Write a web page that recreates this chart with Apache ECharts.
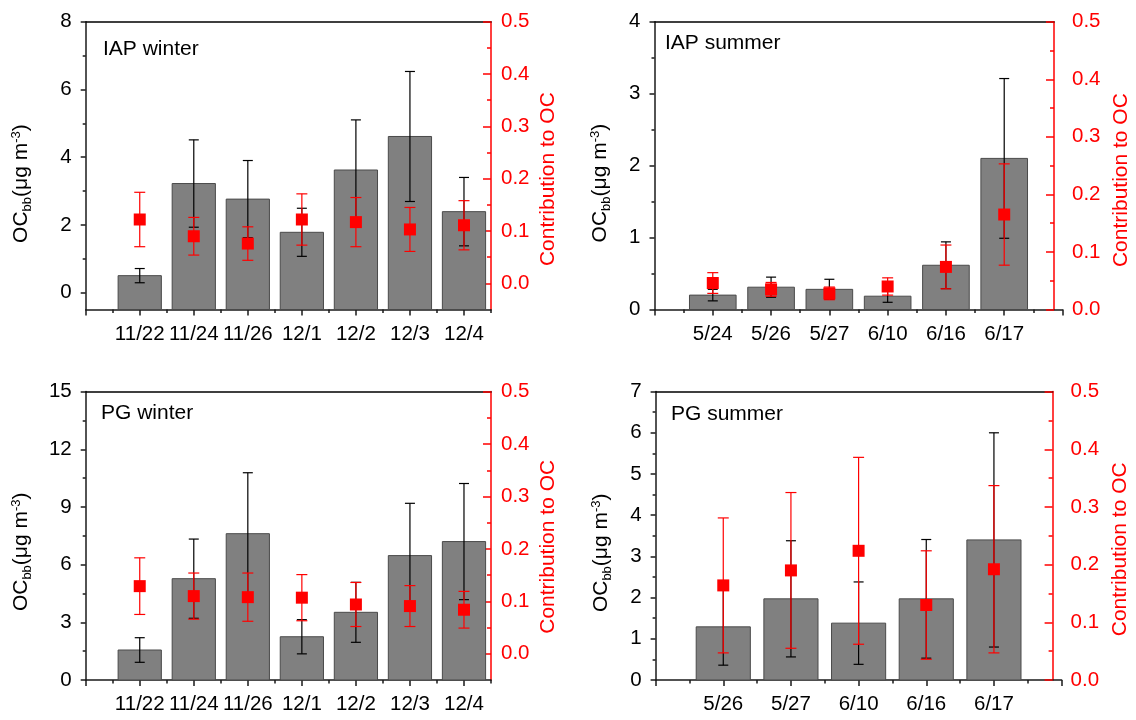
<!DOCTYPE html>
<html><head><meta charset="utf-8">
<script src="https://cdn.jsdelivr.net/npm/echarts@6/dist/echarts.min.js"></script>
<style>html,body{margin:0;padding:0;background:#fff}#c{width:1136px;height:720px}</style>
</head><body><div id="c"></div>
<script>
// ---------- data ----------
const iapWinterDates = ['11/22','11/24','11/26','12/1','12/2','12/3','12/4'];
const iapWinterOC    = [0.50, 3.22, 2.76, 1.78, 3.62, 4.61, 2.39];
const iapWinterOCErr = [0.21, 1.29, 1.14, 0.71, 1.48, 1.92, 1.01];
const iapWinterFrac    = [0.122, 0.090, 0.076, 0.122, 0.117, 0.103, 0.111];
const iapWinterFracErr = [0.052, 0.036, 0.032, 0.049, 0.047, 0.042, 0.047];

const iapSummerDates = ['5/24','5/26','5/27','6/10','6/16','6/17'];
const iapSummerOC    = [0.20, 0.31, 0.28, 0.185, 0.615, 2.10];
const iapSummerOCErr = [0.08, 0.14, 0.14, 0.085, 0.325, 1.11];
const iapSummerFrac    = [0.046, 0.035, 0.028, 0.040, 0.074, 0.165];
const iapSummerFracErr = [0.018, 0.012, 0.011, 0.015, 0.038, 0.088];

const pgWinterDates = ['11/22','11/24','11/26','12/1','12/2','12/3','12/4'];
const pgWinterOC    = [1.56, 5.27, 7.61, 2.25, 3.52, 6.47, 7.20];
const pgWinterOCErr = [0.64, 2.06, 3.17, 0.89, 1.56, 2.72, 3.02];
const pgWinterFrac    = [0.129, 0.110, 0.108, 0.107, 0.094, 0.091, 0.084];
const pgWinterFracErr = [0.054, 0.044, 0.046, 0.044, 0.042, 0.039, 0.035];

const pgSummerDates = ['5/26','5/27','6/10','6/16','6/17'];
const pgSummerOC    = [1.29, 1.97, 1.38, 1.97, 3.40];
const pgSummerOCErr = [0.93, 1.41, 1.00, 1.44, 2.60];
const pgSummerFrac    = [0.164, 0.190, 0.224, 0.130, 0.192];
const pgSummerFracErr = [0.117, 0.135, 0.162, 0.094, 0.145];

// tick values
const iapWinterLeftTicks = [0, 2, 4, 6, 8];
const iapWinterLeftMinor = [1, 3, 5, 7];
const iapSummerLeftTicks = [0, 1, 2, 3, 4];
const iapSummerLeftMinor = [0.5, 1.5, 2.5, 3.5];
const pgWinterLeftTicks = [0, 3, 6, 9, 12, 15];
const pgWinterLeftMinor = [1.5, 4.5, 7.5, 10.5, 13.5];
const pgSummerLeftTicks = [0, 1, 2, 3, 4, 5, 6, 7];
const pgSummerLeftMinor = [0.5, 1.5, 2.5, 3.5, 4.5, 5.5, 6.5];
const rightTicks = [0, 0.1, 0.2, 0.3, 0.4, 0.5];
const rightMinor = [0.05, 0.15, 0.25, 0.35, 0.45];

// ---------- layout ----------
const FONT = '"Liberation Sans", Arial, Helvetica, sans-serif';
const AXIS_BLACK = '#1a1a1a';
const RED = '#ff0000';

const panels = [
  { title: 'IAP winter', dates: iapWinterDates, oc: iapWinterOC, ocErr: iapWinterOCErr, frac: iapWinterFrac, fracErr: iapWinterFracErr,
    ocMin: -0.5, ocMax: 8, leftTicks: iapWinterLeftTicks, leftMinor: iapWinterLeftMinor, fracMin: -0.05, xMax: 7.5,
    left: 85.7, top: 21.7, width: 405.3, height: 287.8, redX: 491, titleX: 103, titleY: 39,
    leftGap: 50, rightGap: 47, leftShift: 36, rightShift: 27, rightMargin: 10 },
  { title: 'IAP summer', dates: iapSummerDates, oc: iapSummerOC, ocErr: iapSummerOCErr, frac: iapSummerFrac, fracErr: iapSummerFracErr,
    ocMin: 0, ocMax: 4, leftTicks: iapSummerLeftTicks, leftMinor: iapSummerLeftMinor, fracMin: 0, xMax: 7,
    left: 654.5, top: 21.7, width: 408, height: 287.8, redX: 1054, titleX: 665, titleY: 33,
    leftGap: 40, rightGap: 57, leftShift: 35, rightShift: 29, rightMargin: 18 },
  { title: 'PG winter', dates: pgWinterDates, oc: pgWinterOC, ocErr: pgWinterOCErr, frac: pgWinterFrac, fracErr: pgWinterFracErr,
    ocMin: 0, ocMax: 15, leftTicks: pgWinterLeftTicks, leftMinor: pgWinterLeftMinor, fracMin: -0.05, xMax: 7.5,
    left: 85.7, top: 391.6, width: 405.3, height: 288.4, redX: 491, titleX: 101, titleY: 403,
    leftGap: 50, rightGap: 47, leftShift: 32, rightShift: 22, rightMargin: 10 },
  { title: 'PG summer', dates: pgSummerDates, oc: pgSummerOC, ocErr: pgSummerOCErr, frac: pgSummerFrac, fracErr: pgSummerFracErr,
    ocMin: 0, ocMax: 7, leftTicks: pgSummerLeftTicks, leftMinor: pgSummerLeftMinor, fracMin: 0, xMax: 6,
    left: 655.6, top: 391.6, width: 406, height: 288.4, redX: 1052.6, titleX: 671, titleY: 404,
    leftGap: 40, rightGap: 57, leftShift: 34, rightShift: 27, rightMargin: 18 }
];

const option = { animation: false, backgroundColor: '#fff', title: [], grid: [], xAxis: [], yAxis: [], series: [] };

const noSplit = { show: false };

panels.forEach(p => {
  const gA = option.grid.length;
  option.grid.push({ left: p.left, top: p.top, width: p.width, height: p.height });
  const gB = option.grid.length;
  option.grid.push({ left: p.left, top: p.top, width: p.redX - p.left, height: p.height });

  option.title.push({ text: p.title, left: p.titleX, top: p.titleY, padding: 0,
    textStyle: { fontFamily: FONT, fontSize: 21, fontWeight: 'normal', color: '#000' } });

  const majorX = [], minorX = [];
  for (let v = 0; v <= p.xMax + 1e-9; v += 0.5) {
    if (Math.abs(v - Math.round(v)) < 1e-9) majorX.push(v); else minorX.push(v);
  }
  const catPos = p.dates.map((d, i) => i + 1);

  // x axes
  const xMain = option.xAxis.length;
  option.xAxis.push({ gridIndex: gA, type: 'value', min: 0, max: p.xMax, position: 'bottom',
    axisLine: { show: true, onZero: false, lineStyle: { color: AXIS_BLACK, width: 1.5 } },
    axisTick: { show: true, customValues: majorX, length: 6, lineStyle: { color: AXIS_BLACK, width: 1.5 } },
    axisLabel: { customValues: catPos, formatter: v => p.dates[Math.round(v) - 1] || '',
      fontFamily: FONT, fontSize: 20.5, color: '#000', margin: 14 },
    splitLine: noSplit });
  option.xAxis.push({ gridIndex: gA, type: 'value', min: 0, max: p.xMax, position: 'bottom',
    axisLine: { show: false, onZero: false },
    axisTick: { show: true, customValues: minorX, length: 3.5, lineStyle: { color: AXIS_BLACK, width: 1.5 } },
    axisLabel: { show: false }, splitLine: noSplit });
  option.xAxis.push({ gridIndex: gB, type: 'value', min: 0, max: 1, position: 'top',
    axisLine: { show: true, onZero: false, lineStyle: { color: '#000', width: 1.5 } },
    axisTick: { show: false }, axisLabel: { show: false }, splitLine: noSplit });

  // y axes
  const yLeft = option.yAxis.length;
  option.yAxis.push({ gridIndex: gA, type: 'value', min: p.ocMin, max: p.ocMax, position: 'left',
    axisLine: { show: true, onZero: false, lineStyle: { color: AXIS_BLACK, width: 1.5 } },
    axisTick: { show: true, customValues: p.leftTicks, length: 5, lineStyle: { color: AXIS_BLACK, width: 1.5 } },
    axisLabel: { customValues: p.leftTicks, fontFamily: FONT, fontSize: 20.5, color: '#000', margin: 14 },
    splitLine: noSplit,
    name: '{a|OC}{b|bb}{a|(μg m}{c|-3}{a|)}', nameLocation: 'middle', nameRotate: 90, nameGap: p.leftGap,
    nameTextStyle: { padding: [0, p.leftShift, 0, 0], rich: {
      a: { fontFamily: FONT, fontSize: 21, color: '#000', lineHeight: 28, verticalAlign: 'middle' },
      b: { fontFamily: FONT, fontSize: 13, color: '#000', lineHeight: 28, verticalAlign: 'bottom', padding: [0, 0, 2, 0] },
      c: { fontFamily: FONT, fontSize: 13, color: '#000', lineHeight: 28, verticalAlign: 'top', padding: [2, 0, 0, 0] }
    } } });
  option.yAxis.push({ gridIndex: gA, type: 'value', min: p.ocMin, max: p.ocMax, position: 'left',
    axisLine: { show: false, onZero: false },
    axisTick: { show: true, customValues: p.leftMinor, length: 3, lineStyle: { color: AXIS_BLACK, width: 1.5 } },
    axisLabel: { show: false }, splitLine: noSplit });
  const yPts = option.yAxis.length;
  option.yAxis.push({ gridIndex: gA, type: 'value', min: p.fracMin, max: 0.5, position: 'right', show: false,
    axisLine: { onZero: false }, splitLine: noSplit });
  option.yAxis.push({ gridIndex: gB, type: 'value', min: p.fracMin, max: 0.5, position: 'right',
    axisLine: { show: true, onZero: false, lineStyle: { color: RED, width: 1.5 } },
    axisTick: { show: true, inside: true, customValues: rightTicks, length: 8, lineStyle: { color: RED, width: 1.5 } },
    axisLabel: { customValues: rightTicks, formatter: v => v.toFixed(1), fontFamily: FONT, fontSize: 20.5, color: RED, margin: p.rightMargin },
    splitLine: noSplit,
    name: 'Contribution to OC', nameLocation: 'middle', nameRotate: 90, nameGap: p.rightGap,
    nameTextStyle: { fontFamily: FONT, fontSize: 21, color: RED, padding: [0, p.rightShift, 0, 0] } });
  option.yAxis.push({ gridIndex: gB, type: 'value', min: p.fracMin, max: 0.5, position: 'right',
    axisLine: { show: false, onZero: false },
    axisTick: { show: true, inside: true, customValues: rightMinor, length: 4, lineStyle: { color: RED, width: 1.5 } },
    axisLabel: { show: false }, splitLine: noSplit });

  // series
  const base = p.ocMin;
  option.series.push({ type: 'custom', xAxisIndex: xMain, yAxisIndex: yLeft, z: 2,
    data: p.oc.map((v, i) => [i + 1, v]),
    renderItem: (params, api) => {
      const x = api.value(0), y = api.value(1);
      const a = api.coord([x - 0.4, base]);
      const b = api.coord([x + 0.4, y]);
      return { type: 'rect', shape: { x: a[0], y: b[1], width: b[0] - a[0], height: a[1] - b[1] },
        style: { fill: '#808080', stroke: '#4a4a4a', lineWidth: 1 } };
    } });
  const errItem = (color, cap) => (params, api) => {
    const x = api.value(0), y = api.value(1), e = api.value(2);
    const hi = api.coord([x, y + e]);
    const lo = api.coord([x, y - e]);
    const st = { stroke: color, lineWidth: 1.2 };
    return { type: 'group', children: [
      { type: 'line', shape: { x1: hi[0], y1: hi[1], x2: lo[0], y2: lo[1] }, style: st },
      { type: 'line', shape: { x1: hi[0] - cap, y1: hi[1], x2: hi[0] + cap, y2: hi[1] }, style: st },
      { type: 'line', shape: { x1: lo[0] - cap, y1: lo[1], x2: lo[0] + cap, y2: lo[1] }, style: st }
    ] };
  };
  option.series.push({ type: 'custom', xAxisIndex: xMain, yAxisIndex: yLeft, z: 3,
    data: p.oc.map((v, i) => [i + 1, v, p.ocErr[i]]), renderItem: errItem('#000', 5) });
  option.series.push({ type: 'custom', xAxisIndex: xMain, yAxisIndex: yPts, z: 4,
    data: p.frac.map((v, i) => [i + 1, v, p.fracErr[i]]), renderItem: errItem(RED, 5.5) });
  option.series.push({ type: 'scatter', xAxisIndex: xMain, yAxisIndex: yPts, z: 5,
    symbol: 'rect', symbolSize: 12, itemStyle: { color: RED, opacity: 1 },
    data: p.frac.map((v, i) => [i + 1, v]) });
});

const chart = echarts.init(document.getElementById('c'), null, { renderer: 'canvas' });
chart.setOption(option);
</script>
</body></html>
